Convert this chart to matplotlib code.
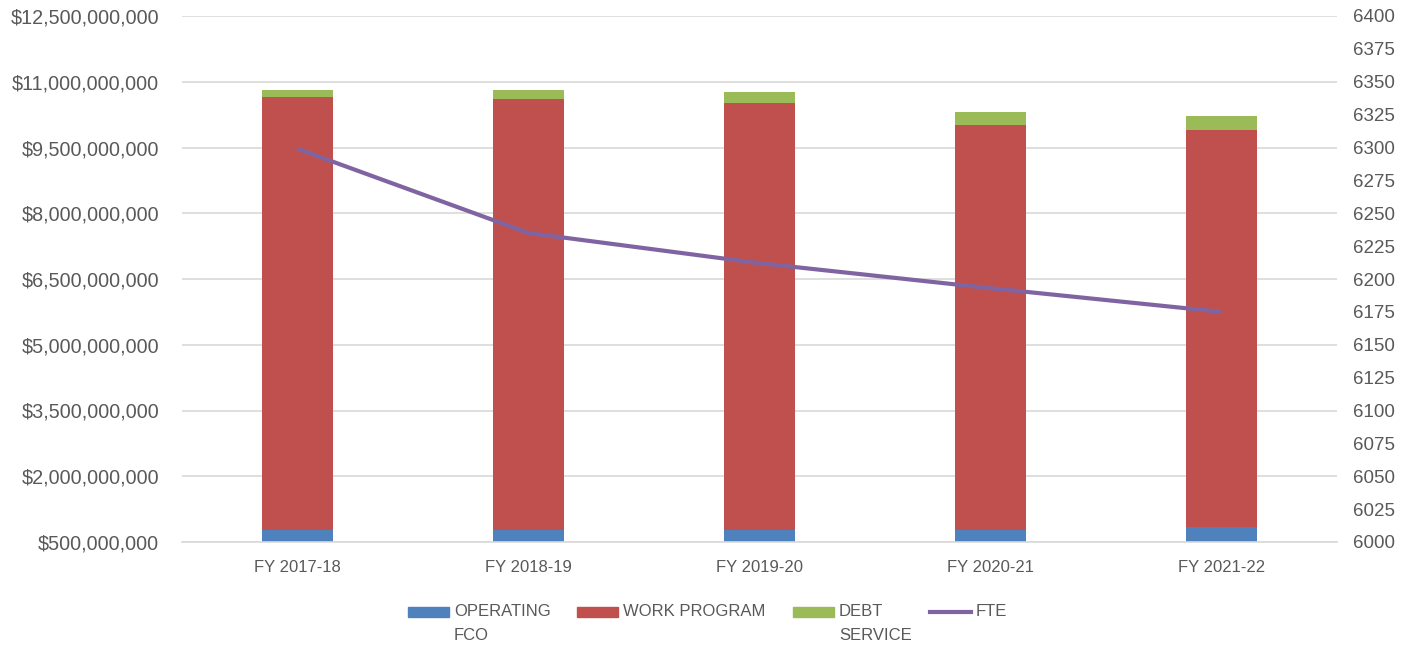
import matplotlib
matplotlib.use("Agg")
import matplotlib.pyplot as plt
import numpy as np
from matplotlib.patches import Rectangle
from matplotlib.lines import Line2D
from matplotlib.ticker import FuncFormatter

categories = ["FY 2017-18", "FY 2018-19", "FY 2019-20", "FY 2020-21", "FY 2021-22"]
operating_fco = [775e6, 775e6, 775e6, 775e6, 842e6]
work_program = [9.88e9, 9.83e9, 9.73e9, 9.23e9, 9.06e9]
debt_service = [0.16e9, 0.205e9, 0.25e9, 0.30e9, 0.31e9]
fte = [6299, 6235, 6212, 6193, 6175]
legend_labels = ["OPERATING\nFCO", "WORK PROGRAM", "DEBT\nSERVICE", "FTE"]

C_BLUE = "#4F81BD"
C_RED = "#C0504D"
C_GREEN = "#9BBB59"
C_PURPLE = "#8064A2"
TXT = "#595959"

plt.rcParams['font.family'] = ['Liberation Sans', 'DejaVu Sans']

fig = plt.figure(figsize=(14.03, 6.46), dpi=100)
ax = fig.add_axes([182/1403, 1 - 542/646, (1337-182)/1403, (542-16)/646])
x = np.arange(len(categories))
w = 0.31
op = np.array(operating_fco)
wp = np.array(work_program)
ds = np.array(debt_service)
ax.bar(x, op, w, color=C_BLUE, zorder=2)
ax.bar(x, wp, w, bottom=op, color=C_RED, zorder=2)
ax.bar(x, ds, w, bottom=op + wp, color=C_GREEN, zorder=2)

ax.set_xlim(-0.5, len(categories) - 0.5)
ax.set_ylim(500e6, 12.5e9)
ax.set_yticks(np.arange(500e6, 12.5e9 + 1, 1.5e9))
ax.yaxis.set_major_formatter(FuncFormatter(lambda v, p: "${:,.0f}".format(v)))
ax.grid(axis='y', color='#d9d9d9', linewidth=1.2, zorder=0)
ax.set_axisbelow(True)
for s in ['top', 'right', 'left']:
    ax.spines[s].set_visible(False)
ax.spines['bottom'].set_color('#d9d9d9')
ax.spines['bottom'].set_linewidth(1.2)
ax.tick_params(axis='both', length=0)
ax.tick_params(axis='y', labelsize=14.2, labelcolor=TXT, pad=16.5)
ax.set_xticks(x)
ax.set_xticklabels(categories, fontsize=12, color=TXT)
ax.tick_params(axis='x', pad=13)

ax2 = ax.twinx()
ax2.plot(x, fte, color=C_PURPLE, linewidth=3, solid_capstyle='butt', zorder=3)
ax2.set_ylim(6000, 6400)
ax2.set_yticks(np.arange(6000, 6401, 25))
for s in ['top', 'right', 'left', 'bottom']:
    ax2.spines[s].set_visible(False)
ax2.tick_params(axis='y', length=0, labelsize=13.5, labelcolor=TXT, pad=11.5)

# legend (manual, Excel-style with wrapped labels)
handles = [("patch", C_BLUE, 408), ("patch", C_RED, 577), ("patch", C_GREEN, 793), ("line", C_PURPLE, 930)]
ly = 612
for (kind, col, px), lab in zip(handles, legend_labels):
    if kind == "patch":
        fig.add_artist(Rectangle((px/1403, 1 - (ly+5)/646), 41/1403, 10/646,
                                 transform=fig.transFigure, color=col))
    else:
        fig.add_artist(Line2D([px/1403, (px+41)/1403], [1 - ly/646, 1 - ly/646],
                              transform=fig.transFigure, color=col, linewidth=3))
    for i, ln in enumerate(lab.split("\n")):
        fig.text((px+46)/1403, 1 - (ly + i*24)/646, ln, fontsize=12, color=TXT,
                 ha='left', va='center')

fig.savefig("out.png", dpi=100)
